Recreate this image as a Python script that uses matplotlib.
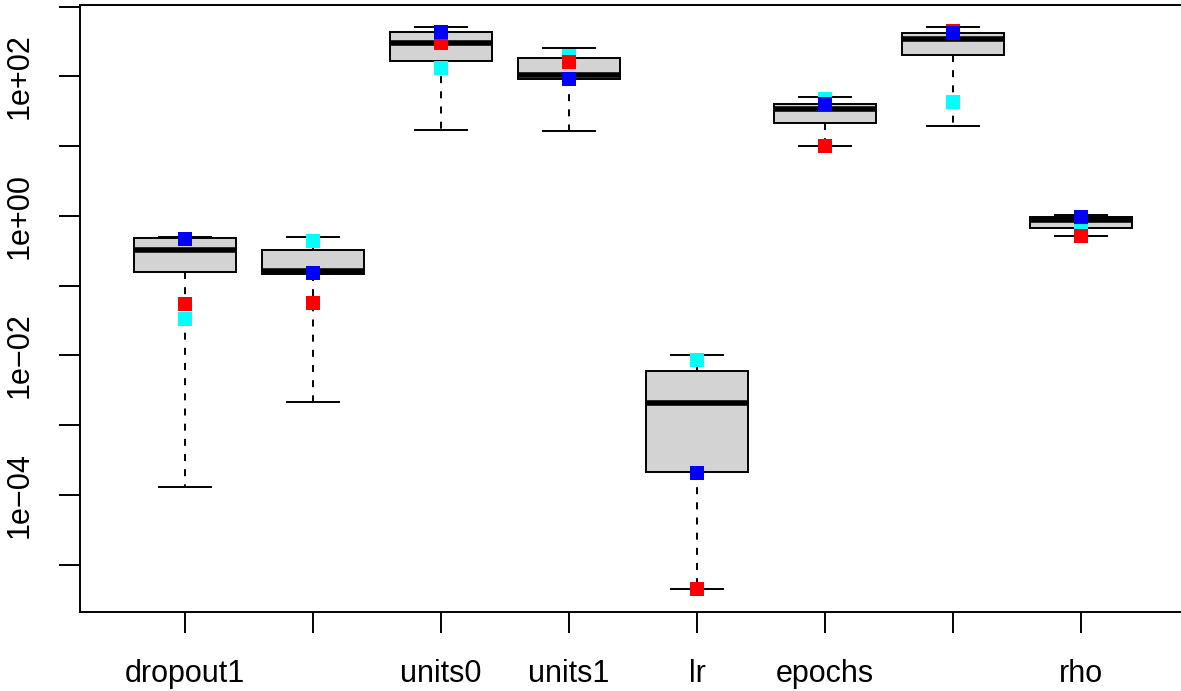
import numpy as np
import matplotlib
matplotlib.use("Agg")
import matplotlib.pyplot as plt

plt.rcParams['font.family'] = ['Liberation Sans', 'DejaVu Sans']

# ---- data ----
tick_labels = ["dropout1", "", "units0", "units1", "lr", "epochs", "", "rho"]
whis_hi = [0.506, 0.506, 505, 256, 0.0102, 50.6, 505, 1.027]
q3      = [0.480, 0.326, 434, 184, 0.00605, 40.2, 420, 0.980]
median  = [0.323, 0.163, 298, 106, 0.00208, 34.1, 348, 0.888]
q1      = [0.158, 0.146, 168, 92.7, 2.11e-4, 21.5, 205, 0.682]
whis_lo = [1.30e-4, 0.00212, 17.2, 16.3, 4.47e-6, 10.1, 19.2, 0.513]

pts_cyan = [0.0332, 0.430, 133, 200, 0.00862, 47.9, 42.9, 0.745]
pts_red  = [0.054, 0.0561, 298, 163, 4.45e-6, 10.1, 448, 0.514]
pts_blue = [0.472, 0.150, 431, 93.3, 2.04e-4, 40.3, 420, 0.955]

W, H = 1181, 691
fig = plt.figure(figsize=(W / 100, H / 100), dpi=100)
positions = np.arange(1, len(tick_labels) + 1)
n = len(positions)
xlo, xhi = 0.5 - 0.04 * n, n + 0.5 + 0.04 * n
left_px = 80.0
px_per_unit = 128.0
right_px = left_px + (xhi - xlo) * px_per_unit
top_px, bot_px = 5.0, 611.5
ax = fig.add_axes([left_px / W, 1 - bot_px / H,
                   (right_px - left_px) / W, (bot_px - top_px) / H])

stats = []
for i in range(n):
    stats.append(dict(med=median[i], q1=q1[i], q3=q3[i],
                      whislo=whis_lo[i], whishi=whis_hi[i], fliers=[]))

lw = 1.4
ax.bxp(stats, positions=positions, widths=0.8, capwidths=0.4,
       patch_artist=True, showfliers=False,
       boxprops=dict(facecolor='#D3D3D3', edgecolor='black', linewidth=lw),
       whiskerprops=dict(color='black', linewidth=lw, linestyle=(0, (3.6, 4.2))),
       capprops=dict(color='black', linewidth=lw),
       medianprops=dict(color='black', linewidth=4.0, solid_capstyle='butt'))

ms = 10.6
for vals, col in [(pts_cyan, '#00FFFF'), (pts_red, '#FF0000'), (pts_blue, '#0000FF')]:
    ax.plot(positions, vals, linestyle='none', marker='s', markersize=ms,
            markerfacecolor=col, markeredgewidth=0, zorder=5)

ax.set_yscale('log')
allv = np.log10(np.concatenate([whis_hi, whis_lo, pts_cyan, pts_red, pts_blue]))
lo, hi = allv.min(), allv.max()
ext = 0.04 * (hi - lo)
ax.set_ylim(10 ** (lo - ext), 10 ** (hi + ext))
ax.set_xlim(xlo, xhi)

exps = np.arange(-5, 4)
ax.set_yticks([10.0 ** k for k in exps])
ax.set_yticklabels([("1e%s%02d" % ("+" if k >= 0 else "\u2212", abs(k))) if k % 2 == 0 else ""
                    for k in exps])
ax.yaxis.set_minor_locator(matplotlib.ticker.NullLocator())
ax.set_xticks(positions)
ax.set_xticklabels(tick_labels)

ax.tick_params(axis='both', length=15, width=lw, labelsize=22, color='black')
ax.tick_params(axis='y', pad=18, labelrotation=90)
ax.tick_params(axis='x', pad=19)
for lab in ax.get_yticklabels():
    lab.set_va('center')

for s in ax.spines.values():
    s.set_linewidth(lw)

fig.savefig("out.png", dpi=100)
